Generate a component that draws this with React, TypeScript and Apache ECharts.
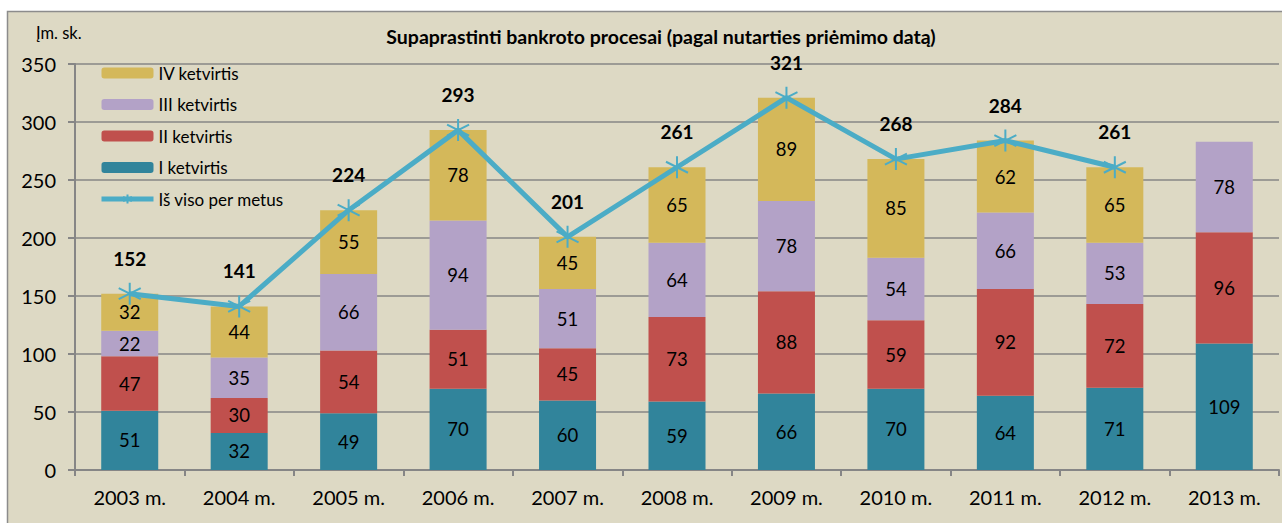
import React, { useEffect, useRef } from "react";
import * as echarts from "echarts";

const categories = ["2003 m.", "2004 m.", "2005 m.", "2006 m.", "2007 m.", "2008 m.", "2009 m.", "2010 m.", "2011 m.", "2012 m.", "2013 m."];
const q1 = [51, 32, 49, 70, 60, 59, 66, 70, 64, 71, 109];
const q2 = [47, 30, 54, 51, 45, 73, 88, 59, 92, 72, 96];
const q3 = [22, 35, 66, 94, 51, 64, 78, 54, 66, 53, 78];
const q4: (number | null)[] = [32, 44, 55, 78, 45, 65, 89, 85, 62, 65, null];
const total: (number | null)[] = [152, 141, 224, 293, 201, 261, 321, 268, 284, 261, null];
const yTicks = { min: 0, max: 350, interval: 50 };

const FONT = "Lato, 'Open Sans', sans-serif";
const STAR = "path://M0,-10L0,10M-8.66,-5L8.66,5M-8.66,5L8.66,-5";

export default function App() {
  const ref = useRef<HTMLDivElement>(null);
  useEffect(() => {
    const chart = echarts.init(ref.current!, null, { renderer: "svg" });
    const barLabel = { show: true, position: "inside", color: "#000", fontSize: 18.5, fontFamily: FONT };
    const bar = (name: string, data: (number | null)[], color: string) => ({
      name,
      type: "bar",
      stack: "s",
      data,
      barWidth: 57,
      itemStyle: { color },
      label: barLabel,
      z: 2,
    });
    chart.setOption({
      animation: false,
      backgroundColor: "#ffffff",
      textStyle: { fontFamily: FONT },
      graphic: [
        {
          type: "rect",
          shape: { x: 7.5, y: 11.5, width: 1290, height: 520 },
          style: { fill: "#DDD9C4", stroke: "#8c8c8c", lineWidth: 1.5 },
          z: -10,
          silent: true,
        },
        {
          type: "text",
          x: 36,
          y: 24,
          style: { text: "Įm. sk.", font: `16.5px ${FONT}`, fill: "#000" },
        },
        {
          type: "text",
          x: 661,
          y: 26,
          style: { text: "Supaprastinti bankroto procesai (pagal nutarties priėmimo datą)", font: `bold 19.5px ${FONT}`, fill: "#000", textAlign: "center" },
        },
      ],
      legend: {
        orient: "vertical",
        left: 94,
        top: 58,
        itemGap: 11.5,
        itemWidth: 52,
        itemHeight: 11,
        textStyle: { fontSize: 17, lineHeight: 20, color: "#000", fontFamily: FONT },
        data: [
          { name: "IV ketvirtis" },
          { name: "III ketvirtis" },
          { name: "II ketvirtis" },
          { name: "I ketvirtis" },
          { name: "Iš viso per metus", lineStyle: { width: 5, color: "#4BACC6" } },
        ],
      },
      grid: { left: 75, right: 3, top: 64, bottom: 53 },
      xAxis: {
        type: "category",
        data: categories,
        axisLine: { lineStyle: { color: "#868686", width: 2 } },
        axisTick: { show: true, length: 6, lineStyle: { color: "#868686", width: 2 } },
        axisLabel: { fontSize: 20, color: "#000", margin: 17, fontFamily: FONT },
      },
      yAxis: {
        type: "value",
        ...yTicks,
        axisLine: { show: true, lineStyle: { color: "#868686", width: 2 } },
        axisTick: { show: true, length: 7, lineStyle: { color: "#868686", width: 2 } },
        axisLabel: { fontSize: 20, color: "#000", margin: 19, fontFamily: FONT },
        splitLine: { lineStyle: { color: "#868686", width: 1.5 } },
      },
      series: [
        bar("I ketvirtis", q1, "#31849B"),
        bar("II ketvirtis", q2, "#C0504D"),
        bar("III ketvirtis", q3, "#B3A2C7"),
        bar("IV ketvirtis", q4, "#D4B85A"),
        {
          name: "Iš viso per metus",
          type: "line",
          data: total,
          symbol: STAR,
          symbolSize: 22,
          lineStyle: { color: "#4BACC6", width: 5 },
          itemStyle: { color: "rgba(0,0,0,0)", borderColor: "#4BACC6", borderWidth: 2 },
          label: { show: true, position: "top", distance: 14, fontSize: 19, fontWeight: "bold", color: "#000", fontFamily: FONT },
          z: 5,
        },
      ],
    });
    return () => chart.dispose();
  }, []);
  return <div ref={ref} style={{ position: "fixed", left: 0, top: 0, width: 1282, height: 523 }} />;
}
